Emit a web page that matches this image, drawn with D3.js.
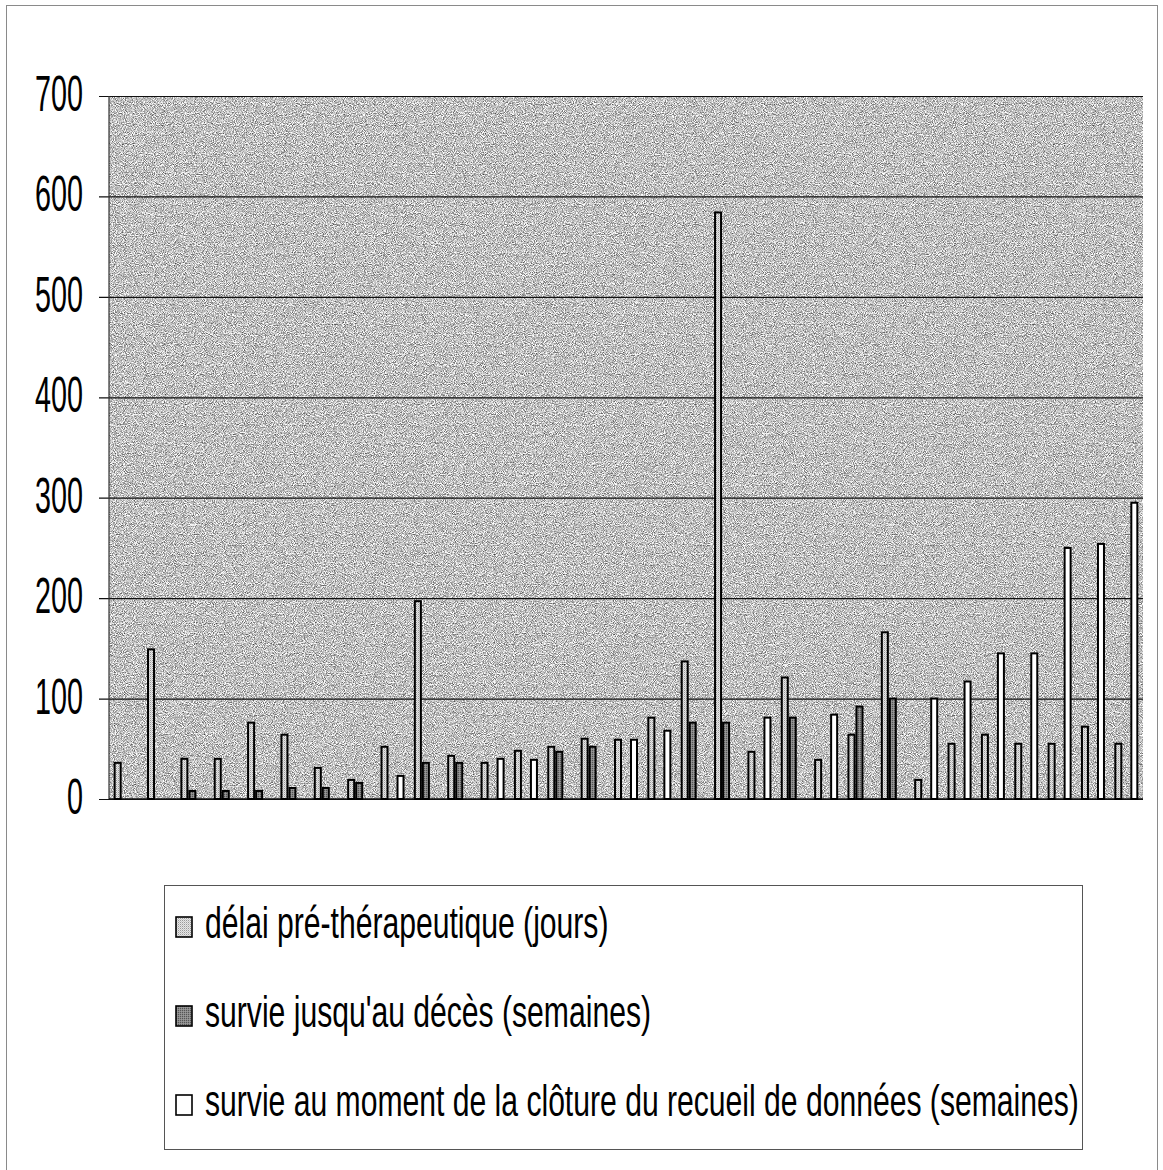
<!DOCTYPE html>
<html>
<head>
<meta charset="utf-8">
<script src="https://cdn.jsdelivr.net/npm/d3@7"></script>
<style>
  html, body { margin: 0; padding: 0; background: #fff; }
  svg { display: block; }
  text { font-family: 'Liberation Sans Narrow', 'Liberation Sans', Arial, sans-serif; fill: #000; }
</style>
</head>
<body>
<svg id="chart" width="1163" height="1170"></svg>
<script>
// ---- data ----
const categories = ["1","2","3","4","5","6","7","8","9","10","11","12","13","14","15","16",
  "17","18","19","20","21","22","23","24","25","26","27","28","29","30","31"];
const seriesNames = [
  "délai pré-thérapeutique (jours)",
  "survie jusqu'au décès (semaines)",
  "survie au moment de la clôture du recueil de données (semaines)"
];
const delai  = [36,149,40,40,76,64,31,19,52,197,43,36,48,52,60,59,81,137,584,47,121,39,64,166,19,55,64,55,55,72,55];
const deces  = [null,null,8,8,8,11,11,16,null,36,36,null,null,47,52,null,null,76,76,null,81,null,92,100,null,null,null,null,null,null,null];
const survie = [null,null,null,null,null,null,null,null,23,null,null,40,39,null,null,59,68,null,null,81,null,84,null,null,100,117,145,145,250,254,295];
const yTicks = [0,100,200,300,400,500,600,700];

// ---- layout ----
const svg = d3.select("#chart");
const plot = {left: 109, right: 1143, top: 96, bottom: 799};

const defs = svg.append("defs");
const grain = defs.append("filter").attr("id","grain")
  .attr("x",0).attr("y",0).attr("width",1).attr("height",1)
  .attr("color-interpolation-filters","sRGB");
grain.append("feTurbulence").attr("type","fractalNoise").attr("baseFrequency",1.1)
  .attr("numOctaves",1).attr("seed",7);
grain.append("feColorMatrix").attr("type","matrix")
  .attr("values","1.5 0 0 0 0.0  1.5 0 0 0 0.0  1.5 0 0 0 0.0  0 0 0 0 1");

const pat = defs.append("pattern").attr("id","dots").attr("patternUnits","userSpaceOnUse")
  .attr("width",2).attr("height",2);
pat.append("rect").attr("width",2).attr("height",2).attr("fill","#e6e6e6");
pat.append("rect").attr("width",1).attr("height",1).attr("fill","#9a9a9a");
pat.append("rect").attr("x",1).attr("y",1).attr("width",1).attr("height",1).attr("fill","#c8c8c8");

const pat2 = defs.append("pattern").attr("id","dark").attr("patternUnits","userSpaceOnUse")
  .attr("width",2).attr("height",2);
pat2.append("rect").attr("width",2).attr("height",2).attr("fill","#8a8a8a");
pat2.append("rect").attr("width",1).attr("height",1).attr("fill","#555");
pat2.append("rect").attr("x",1).attr("y",1).attr("width",1).attr("height",1).attr("fill","#9a9a9a");

const fills = ["url(#dots)", "url(#dark)", "#ffffff"];

// outer frame
svg.append("rect").attr("x",6.5).attr("y",5.5).attr("width",1151).attr("height",1180)
  .attr("fill","none").attr("stroke","#8a8a8a").attr("stroke-width",1);

// scales
const x = d3.scaleBand().domain(categories).range([plot.left, plot.right])
  .paddingInner(0.28).paddingOuter(0.14);
const xs = d3.scaleBand().domain([0,1,2]).range([0, x.bandwidth()]);
const y = d3.scaleLinear().domain([0,700]).range([plot.bottom, plot.top]);

// plot background
svg.append("rect").attr("x",plot.left).attr("y",plot.top)
  .attr("width",plot.right-plot.left).attr("height",plot.bottom-plot.top)
  .attr("filter","url(#grain)");

// gridlines + ticks via axis
const yAxis = d3.axisLeft(y).tickValues(yTicks).tickSize(plot.right - plot.left + 10).tickFormat("");
const gAxis = svg.append("g").attr("transform",`translate(${plot.right},0)`).call(yAxis);
gAxis.select(".domain").remove();
gAxis.selectAll(".tick line").attr("stroke","#111").attr("stroke-width",1.2);

// left axis line
svg.append("line").attr("x1",plot.left).attr("x2",plot.left).attr("y1",plot.top).attr("y2",plot.bottom)
  .attr("stroke","#333").attr("stroke-width",1.2);
// x axis line
svg.append("line").attr("x1",plot.left).attr("x2",plot.right).attr("y1",plot.bottom).attr("y2",plot.bottom)
  .attr("stroke","#111").attr("stroke-width",1.5);

// bars
const series = [delai, deces, survie];
series.forEach((vals, si) => {
  svg.append("g").selectAll("rect")
    .data(categories.map((c,i)=>({c, v: vals[i]})).filter(d => d.v != null))
    .join("rect")
    .attr("x", d => x(d.c) + xs(si) + 1)
    .attr("y", d => y(d.v))
    .attr("width", xs.bandwidth() - 2)
    .attr("height", d => y(0) - y(d.v))
    .attr("fill", fills[si])
    .attr("stroke","#000").attr("stroke-width",2);
});

// y labels
const yl = svg.append("g");
const probe = yl.append("text").attr("font-size",50).text("600");
const sxY = 48 / probe.node().getComputedTextLength();
probe.remove();
yTicks.forEach(t => {
  yl.append("text").attr("font-size",50).attr("text-anchor","end")
    .attr("transform",`translate(83,${y(t)+15}) scale(${sxY},1)`)
    .text(String(t));
});

// legend
const lg = svg.append("g");
lg.append("rect").attr("x",164.5).attr("y",885.5).attr("width",918).attr("height",264)
  .attr("fill","#fff").attr("stroke","#555").attr("stroke-width",1);
const lp = lg.append("text").attr("font-size",45).text(seriesNames[2]);
const sxL = 874 / lp.node().getComputedTextLength();
lp.remove();
const rowBase = [938, 1027, 1116];
seriesNames.forEach((n,i) => {
  lg.append("rect").attr("x",176).attr("y",rowBase[i]-21).attr("width",16).attr("height",20)
    .attr("fill",fills[i]).attr("stroke","#000").attr("stroke-width",1.6);
  lg.append("text").attr("font-size",45)
    .attr("transform",`translate(205,${rowBase[i]}) scale(${sxL},1)`)
    .text(n);
});
</script>
</body>
</html>
